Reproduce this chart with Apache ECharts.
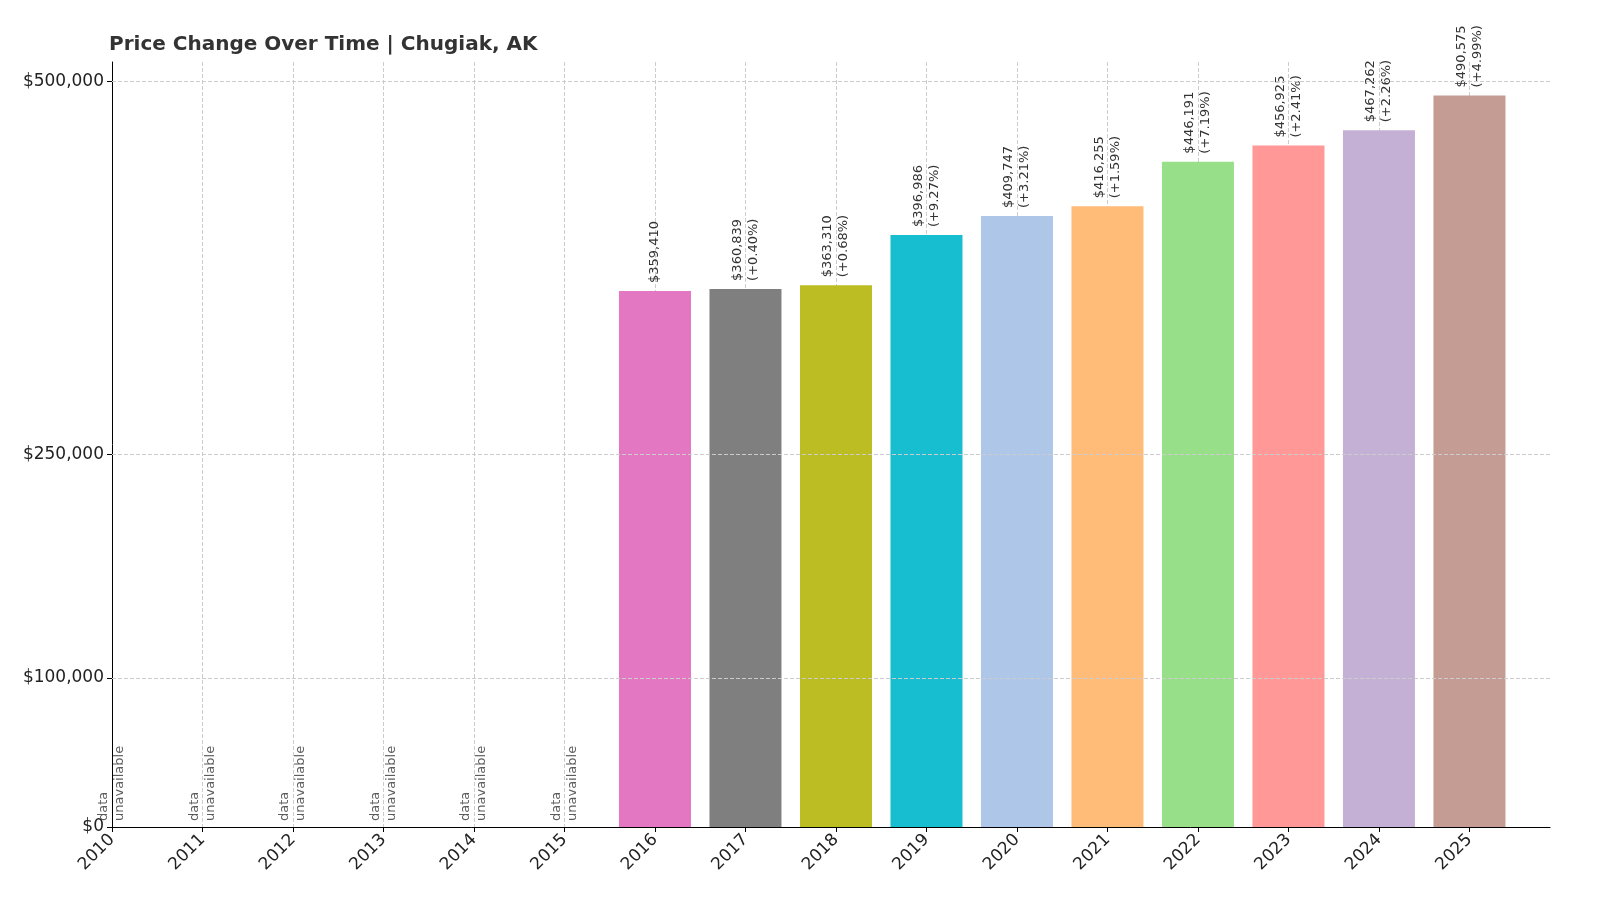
<!DOCTYPE html><html><head><meta charset="utf-8"><script src="https://cdn.jsdelivr.net/npm/echarts@6/dist/echarts.min.js"></script></head><body style="margin:0"><div id="c" style="width:1600px;height:914px"></div><script>
const years=[2010,2011,2012,2013,2014,2015,2016,2017,2018,2019,2020,2021,2022,2023,2024,2025];
const values=[null,null,null,null,null,null,359410,360839,363310,396986,409747,416255,446191,456925,467262,490575];
const changes=[null,null,null,null,null,null,null,'+0.40%','+0.68%','+9.27%','+3.21%','+1.59%','+7.19%','+2.41%','+2.26%','+4.99%'];
const colors=['#e377c2','#7f7f7f','#bcbd22','#17becf','#aec7e8','#ffbb78','#98df8a','#ff9896','#c5b0d5','#c49c94'];
const yTicks=[0,100000,250000,500000];
const fmt=v=>'$'+v.toLocaleString('en-US');
let ci=0;
const barData=[],naData=[];
years.forEach((y,i)=>{
 if(values[i]==null){naData.push([y,0]);return;}
 const c=colors[ci++];
 barData.push({value:[y,values[i]],itemStyle:{color:c},label:{formatter:fmt(values[i])+(changes[i]?'\n('+changes[i]+')':'')}});
});
const ch=echarts.init(document.getElementById('c'));
ch.setOption({animation:false,
title:{text:'Price Change Over Time | Chugiak, AK',left:104,top:30,textStyle:{fontFamily:'DejaVu Sans',fontSize:20,fontWeight:'bold',color:'#333'}},
grid:{left:112,right:50,top:62,bottom:87},
xAxis:{type:'value',min:2010,max:2025.89,interval:1,axisLine:{lineStyle:{color:'#000'}},axisTick:{lineStyle:{color:'#000'}},
 axisLabel:{rotate:45,fontFamily:'DejaVu Sans',fontSize:17,color:'#222',formatter:v=>Number.isInteger(v)&&v<=2025?String(v):'',margin:10,showMaxLabel:false},
 splitLine:{show:true,showMaxLine:false,lineStyle:{type:'dashed',color:'#ccc'}}},
yAxis:{type:'value',min:0,max:513000,axisLine:{show:true,lineStyle:{color:'#000'}},
 axisTick:{show:true,customValues:yTicks,lineStyle:{color:'#000'}},
 axisLabel:{customValues:yTicks,formatter:fmt,fontFamily:'DejaVu Sans',fontSize:17,color:'#222'},splitLine:{show:false}},
series:[
{type:'bar',barWidth:72,data:barData,label:{show:true,position:'top',rotate:90,align:'left',verticalAlign:'middle',distance:8,fontFamily:'DejaVu Sans',fontSize:13,color:'#333',lineHeight:16},
 markLine:{silent:true,symbol:'none',label:{show:false},lineStyle:{type:'dashed',color:'#ccc',width:1},data:yTicks.slice(1).map(v=>({yAxis:v}))}},
{type:'scatter',symbolSize:0,data:naData,label:{show:true,position:'top',rotate:90,align:'left',verticalAlign:'middle',distance:6,formatter:'data\nunavailable',fontFamily:'DejaVu Sans',fontSize:13,color:'#333',lineHeight:16}}
]});
</script></body></html>
